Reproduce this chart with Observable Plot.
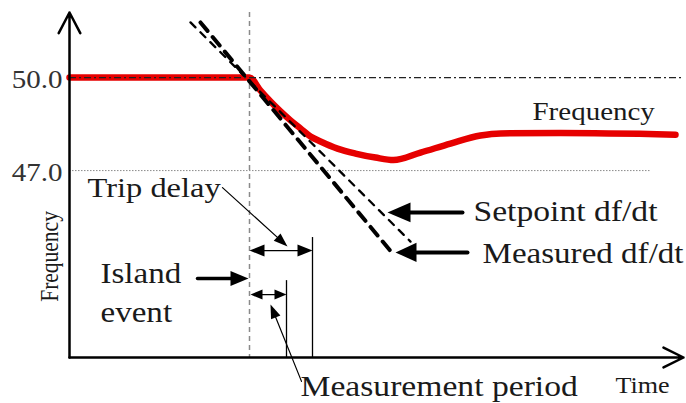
<!DOCTYPE html>
<html><head><meta charset="utf-8">
<script src="https://cdn.jsdelivr.net/npm/d3@7"></script>
<script src="https://cdn.jsdelivr.net/npm/@observablehq/plot@0.6"></script>
<style>body{margin:0;background:#fff;}</style>
</head><body><div id="chart"></div>
<script>
// ---- data (time in arbitrary units, frequency in Hz) ----
const tDomain = [0, 614];
const fDomain = [40.97, 52.1];
const tickValues = [47, 50];

const freqTime  = [0, 180, 191, 201, 211, 221, 231, 241, 251, 268, 286, 306, 324, 351, 381, 411, 431, 491, 606];
const freqValue = [50.0, 50.0, 49.58, 49.23, 48.91, 48.62, 48.36, 48.10, 47.94, 47.71, 47.55, 47.42, 47.34, 47.58, 47.87, 48.13, 48.20, 48.21, 48.16];

const setpointTime  = [121, 341];
const setpointValue = [51.78, 44.71];
const measuredTime  = [131, 324];
const measuredValue = [51.78, 44.29];

const islandTime = 180;
const nominalLevel = 50;
const thresholdLevel = 47;
const thresholdEnd = 581;

const tripDelaySpan = [180, 243];
const tripDelayLevel = 44.42;
const tripDelayMarkTop = 44.84;
const measPeriodSpan = [181, 217];
const measPeriodLevel = 43.0;
const measPeriodMarkTop = 43.45;

const pointerKeys = ["trip", "period", "island", "setpoint", "measured"];
const pointerT1 = [153, 232, 128, 393, 398];
const pointerF1 = [46.45, 40.20, 43.52, 45.65, 44.36];
const pointerT2 = [218, 201, 179, 318, 326];
const pointerF2 = [44.55, 42.68, 43.52, 45.65, 44.36];

const labelKeys = ["freq", "trip", "island", "setpoint", "measured", "period", "time"];
const labelTexts = ["Frequency", "Trip delay", "Island\nevent", "Setpoint df/dt", "Measured df/dt", "Measurement period", "Time"];
const labelT = [463, 18, 31, 404, 413, 231, 546];
const labelF = [48.62, 46.16, 42.10, 45.36, 44.03, 39.74, 39.81];
const yLabelText = "Frequency";
const yLabelT = -12, yLabelF = 44.23;

// ---- styles ----
const W = 686, H = 403, mL = 69, mR = 3, mT = 12, mB = 46;
const FONT = "Liberation Serif";
const STRETCH = 1.16;
const pointerStyle = {
  trip: {w: 1.2, head: 14, ratio: 0.36},
  period: {w: 1.2, head: 14, ratio: 0.36},
  island: {w: 3.5, head: 18, ratio: 0.42},
  setpoint: {w: 4, head: 23, ratio: 0.43},
  measured: {w: 4, head: 21, ratio: 0.46}
};
const labelStyle = {
  freq: {size: 25}, trip: {size: 28}, island: {size: 28.5, lh: 1.37},
  setpoint: {size: 29}, measured: {size: 28.5}, period: {size: 29}, time: {size: 22.5}
};

const xs = Plot.scale({x: {domain: tDomain, range: [mL, W - mR]}});
const ys = Plot.scale({y: {domain: fDomain, range: [H - mB, mT]}});
const angle = (t1, f1, t2, f2) => {
  const dx = xs.apply(t2) - xs.apply(t1);
  const dy = ys.apply(f2) - ys.apply(f1);
  return Math.atan2(dx, -dy) * 180 / Math.PI;
};
const headSymbol = (ratio) => ({
  draw(ctx, size) {
    const l = Math.sqrt(size / Math.PI);
    ctx.moveTo(0, 0); ctx.lineTo(-ratio * l, l); ctx.lineTo(ratio * l, l); ctx.closePath();
  }
});

const freqData = freqTime.map((t, i) => ({t, f: freqValue[i]}));
const setpointData = setpointTime.map((t, i) => ({t, f: setpointValue[i]}));
const measuredData = measuredTime.map((t, i) => ({t, f: measuredValue[i]}));
const pointers = pointerKeys.map((k, i) => ({k, t1: pointerT1[i], f1: pointerF1[i], t2: pointerT2[i], f2: pointerF2[i]}));

const marks = [
  // guides
  Plot.ruleY([thresholdLevel], {x1: 0, x2: thresholdEnd, stroke: "#8a8a8a", strokeWidth: 1, strokeDasharray: "1.5,1.5"}),
  Plot.ruleX([islandTime], {stroke: "#8a8a8a", strokeWidth: 1.5, strokeDasharray: "5,4"}),
  // frequency curve
  Plot.line(freqData, {x: "t", y: "f", stroke: "#e60000", strokeWidth: 6.5, curve: "monotone-x"}),
  // df/dt lines
  Plot.line(setpointData, {x: "t", y: "f", stroke: "#000", strokeWidth: 2.3, strokeDasharray: "7,7"}),
  Plot.line(measuredData, {x: "t", y: "f", stroke: "#000", strokeWidth: 4, strokeDasharray: "11,8"}),
  // nominal 50 Hz line
  Plot.ruleY([nominalLevel], {stroke: "#222", strokeWidth: 1.2, strokeDasharray: "7,3,2,3"}),
  // axes
  Plot.arrow([0], {x1: tDomain[0], x2: tDomain[0], y1: fDomain[0], y2: fDomain[1], stroke: "#000", strokeWidth: 2.5, headLength: 14, headAngle: 55}),
  Plot.arrow([0], {x1: tDomain[0], x2: tDomain[1], y1: fDomain[0], y2: fDomain[0], stroke: "#000", strokeWidth: 2.5, headLength: 13.4, headAngle: 53}),
  Plot.axisY(tickValues, {tickFormat: d3.format(".1f"), tickSize: 0, tickPadding: 7, fontSize: 25, fontFamily: FONT, fill: "#333", label: null, dy: 2}),
  // measurement markers
  Plot.ruleX([tripDelaySpan[1]], {y1: fDomain[0], y2: tripDelayMarkTop, stroke: "#000", strokeWidth: 1.3}),
  Plot.ruleX([measPeriodSpan[1]], {y1: fDomain[0], y2: measPeriodMarkTop, stroke: "#000", strokeWidth: 1.3}),
  Plot.arrow([0], {x1: tripDelaySpan[0], x2: tripDelaySpan[1], y1: tripDelayLevel, y2: tripDelayLevel, stroke: "#000", strokeWidth: 1.3, headLength: 0, insetStart: 8, insetEnd: 8}),
  Plot.dot([0], {x: tripDelaySpan[0], y: tripDelayLevel, r: 15, rotate: -90, symbol: headSymbol(0.4), fill: "#000"}),
  Plot.dot([0], {x: tripDelaySpan[1], y: tripDelayLevel, r: 15, rotate: 90, symbol: headSymbol(0.4), fill: "#000"}),
  Plot.arrow([0], {x1: measPeriodSpan[0], x2: measPeriodSpan[1], y1: measPeriodLevel, y2: measPeriodLevel, stroke: "#000", strokeWidth: 1.3, headLength: 0, insetStart: 6, insetEnd: 6}),
  Plot.dot([0], {x: measPeriodSpan[0], y: measPeriodLevel, r: 12, rotate: -90, symbol: headSymbol(0.42), fill: "#000"}),
  Plot.dot([0], {x: measPeriodSpan[1], y: measPeriodLevel, r: 12, rotate: 90, symbol: headSymbol(0.42), fill: "#000"}),
  // pointers
  ...pointers.flatMap(p => {
    const s = pointerStyle[p.k];
    return [
      Plot.arrow([p], {x1: "t1", y1: "f1", x2: "t2", y2: "f2", stroke: "#000", strokeWidth: s.w, headLength: 0, insetEnd: s.head * 0.6}),
      Plot.dot([p], {x: "t2", y: "f2", r: s.head, rotate: angle(p.t1, p.f1, p.t2, p.f2), symbol: headSymbol(s.ratio), fill: "#000"})
    ];
  }),
  // labels
  ...labelKeys.map((k, i) => Plot.text([labelTexts[i]], {
    x: labelT[i], y: labelF[i], text: d => d, textAnchor: "start", lineAnchor: "bottom",
    fontSize: labelStyle[k].size, lineHeight: labelStyle[k].lh || 1, fontFamily: FONT, fill: "#1a1a1a"
  })),
  Plot.text([yLabelText], {x: yLabelT, y: yLabelF, text: d => d, rotate: -90, textAnchor: "middle", lineAnchor: "bottom",
    fontSize: 21.5, fontFamily: FONT, fill: "#1a1a1a"})
];

const svg = Plot.plot({
  width: W, height: H, marginLeft: mL, marginRight: mR, marginTop: mT, marginBottom: mB,
  x: {domain: tDomain, axis: null},
  y: {domain: fDomain, axis: null},
  style: {fontFamily: FONT, background: "#fff", overflow: "visible"},
  marks
});
svg.querySelectorAll("text").forEach(t => {
  const tr = t.getAttribute("transform") || "";
  t.setAttribute("transform", tr + (/rotate/.test(tr) ? ` scale(1,${STRETCH})` : ` scale(${STRETCH},1)`));
});
document.getElementById("chart").appendChild(svg);
</script>
</body></html>
